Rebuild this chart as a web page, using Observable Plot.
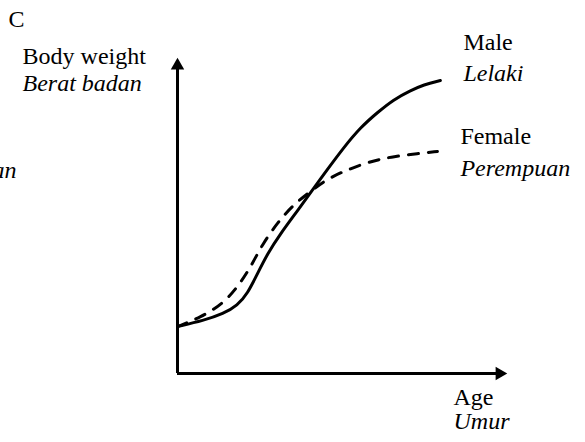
<!DOCTYPE html>
<html>
<head>
<meta charset="utf-8">
<script src="https://cdn.jsdelivr.net/npm/d3@7"></script>
<script src="https://cdn.jsdelivr.net/npm/@observablehq/plot@0.6"></script>
<style>
  html, body { margin: 0; padding: 0; background: #fff; }
  svg { display: block; }
</style>
</head>
<body>
<div id="chart"></div>
<script>
// Male growth curve (age, body weight), relative units
const maleAge    = [0, 7.9, 14.0, 18.2, 21.3, 24.3, 27.4, 31.3, 36.5, 41.3, 45.6, 50.5, 55.6, 60.8, 65.7, 70.8, 74.8, 79.9];
const maleWeight = [14.9, 16.8, 19.0, 21.6, 25.4, 31.7, 38.1, 44.4, 51.7, 58.7, 64.8, 71.7, 78.1, 82.9, 87.0, 89.8, 91.7, 93.0];
// Female growth curve
const femaleAge    = [0, 7.0, 14.0, 19.1, 22.8, 25.8, 30.4, 35.0, 39.5, 45.6, 52.6, 59.6, 65.7, 73.0, 79.0];
const femaleWeight = [14.9, 17.8, 22.2, 28.6, 34.9, 41.0, 47.9, 53.3, 57.1, 61.9, 65.1, 67.6, 68.9, 69.8, 70.5];

// Text labels
const labelText  = ["C", "Body weight", "Berat badan", "Male", "Lelaki", "Female", "Perempuan", "Age", "Umur", "Perempuan"];
const labelStyle = ["normal", "normal", "italic", "normal", "italic", "normal", "italic", "normal", "italic", "italic"];
const labelAnchor = ["start", "start", "start", "start", "start", "start", "start", "start", "start", "end"];
const labelX = [-51.4, -47.1, -47.1, 86.9, 86.9, 86.0, 86.0, 83.9, 83.9, -48.9];
const labelY = [112.4, 100.6, 92.1, 105.1, 95.2, 75.2, 65.1, -7.6, -15.2, 64.4];

const male = maleAge.map((a, i) => ({age: a, weight: maleWeight[i]}));
const female = femaleAge.map((a, i) => ({age: a, weight: femaleWeight[i]}));
const labels = labelText.map((t, i) => ({text: t, style: labelStyle[i], anchor: labelAnchor[i], x: labelX[i], y: labelY[i]}));

const font = "'Liberation Serif', 'Times New Roman', serif";

function textMark(data) {
  const groups = d3.groups(data, d => d.style + "|" + d.anchor);
  return groups.map(([key, rows]) => {
    const [style, anchor] = key.split("|");
    return Plot.text(rows, {
      x: "x", y: "y", text: "text",
      textAnchor: anchor, fontStyle: style,
      fontSize: 24, fontFamily: font, fill: "black",
      style: "letter-spacing:1px; word-spacing:10px"
    });
  });
}

const chart = Plot.plot({
  width: 585,
  height: 442,
  marginLeft: 177,
  marginRight: 79,
  marginTop: 58,
  marginBottom: 69,
  x: {domain: [0, 100], axis: null},
  y: {domain: [0, 100], axis: null},
  style: {background: "#fff"},
  marks: [
    // axes
    Plot.ruleX([0], {y1: 0, y2: 97, stroke: "black", strokeWidth: 3}),
    Plot.ruleY([0], {x1: 0, x2: 97, stroke: "black", strokeWidth: 3}),
    Plot.dot([{x: 0, y: 100}], {x: "x", y: "y", symbol: "triangle", r: 5, fill: "black", stroke: null, dy: 7}),
    Plot.dot([{x: 100, y: 0}], {x: "x", y: "y", symbol: "triangle", r: 5, fill: "black", stroke: null, dx: -7, rotate: 90}),
    // curves
    Plot.line(male, {x: "age", y: "weight", curve: "basis", stroke: "black", strokeWidth: 3}),
    Plot.line(female, {x: "age", y: "weight", curve: "basis", stroke: "black", strokeWidth: 3, strokeDasharray: "10,10"}),
    ...textMark(labels)
  ]
});

document.getElementById("chart").appendChild(chart);
</script>
</body>
</html>
